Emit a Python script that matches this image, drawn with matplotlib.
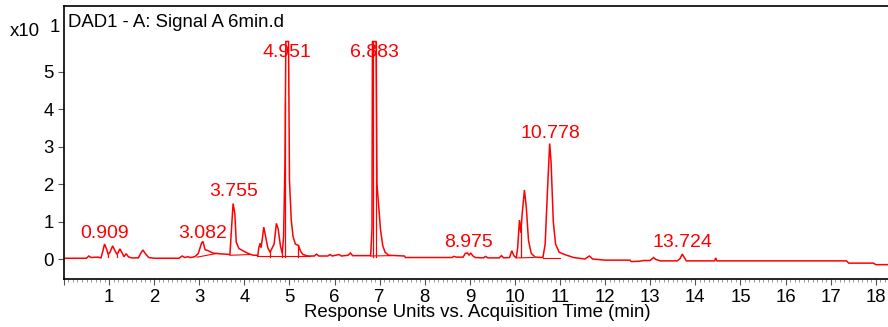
import numpy as np
import matplotlib
matplotlib.use("Agg")
import matplotlib.pyplot as plt
from matplotlib.ticker import MultipleLocator

plt.rcParams['font.family'] = ['Liberation Sans', 'DejaVu Sans']

# DAD1 signal A, response in units of x10^1, time in minutes
rt = [0.00, 0.50, 0.55, 0.60, 0.75, 0.82, 0.86, 0.90, 0.95, 0.98, 1.02, 1.08,
      1.14, 1.18, 1.24, 1.30, 1.33, 1.38, 1.43, 1.50, 1.65, 1.70, 1.75, 1.82,
      1.88, 2.00, 2.55, 2.62, 2.68, 2.75, 2.80, 2.90, 2.98, 3.05, 3.08, 3.13,
      3.20, 3.30, 3.45, 3.68, 3.70, 3.75, 3.79, 3.82, 3.88, 4.00, 4.10, 4.20,
      4.30, 4.32, 4.35, 4.37, 4.40, 4.43, 4.47, 4.52, 4.57, 4.62, 4.66, 4.71,
      4.75, 4.80, 4.84, 4.87, 4.90, 4.92, 4.98, 5.00, 5.04, 5.08, 5.13, 5.20,
      5.25, 5.30, 5.40, 5.55, 5.60, 5.65, 5.85, 5.90, 5.95, 6.10, 6.15, 6.30,
      6.35, 6.40, 6.80, 6.83, 6.84, 6.92, 6.94, 7.02, 7.07, 7.12, 7.20, 7.55,
      7.57, 8.60, 8.65, 8.70, 8.85, 8.90, 8.95, 8.98, 9.02, 9.07, 9.12, 9.30,
      9.35, 9.40, 9.65, 9.70, 9.75, 9.88, 9.93, 9.98, 10.03, 10.06, 10.10,
      10.13, 10.16, 10.21, 10.25, 10.30, 10.36, 10.45, 10.62, 10.67, 10.72,
      10.77, 10.80, 10.85, 10.90, 10.98, 11.10, 11.20, 11.30, 11.55, 11.65,
      11.72, 12.00, 12.55, 12.58, 12.75, 12.85, 13.00, 13.07, 13.12, 13.22,
      13.60, 13.66, 13.71, 13.76, 13.80, 14.43, 14.45, 14.48, 17.35, 17.40,
      17.95, 18.00, 18.40]
signal = [0.02, 0.02, 0.08, 0.04, 0.05, 0.03, 0.20, 0.40, 0.25, 0.12, 0.18, 0.35,
          0.20, 0.12, 0.27, 0.14, 0.06, 0.14, 0.06, 0.03, 0.03, 0.15, 0.24, 0.12,
          0.04, 0.02, 0.02, 0.08, 0.04, 0.06, 0.04, 0.06, 0.15, 0.42, 0.47, 0.25,
          0.22, 0.16, 0.14, 0.12, 0.50, 1.48, 1.20, 0.45, 0.28, 0.20, 0.14, 0.10,
          0.10, 0.30, 0.42, 0.30, 0.55, 0.85, 0.60, 0.30, 0.18, 0.30, 0.40, 0.95,
          0.80, 0.35, 0.15, 0.60, 2.50, 5.80, 5.80, 2.10, 1.04, 0.60, 0.40, 0.36,
          0.20, 0.12, 0.08, 0.08, 0.13, 0.08, 0.08, 0.12, 0.08, 0.12, 0.08, 0.10,
          0.16, 0.09, 0.09, 0.80, 5.80, 5.80, 2.00, 0.77, 0.35, 0.18, 0.10, 0.08,
          0.04, 0.04, 0.07, 0.05, 0.05, 0.15, 0.16, 0.10, 0.16, 0.08, 0.04, 0.03,
          0.07, 0.03, 0.03, 0.09, 0.03, 0.04, 0.22, 0.08, 0.03, 0.30, 1.04,
          0.70, 1.20, 1.84, 1.40, 0.50, 0.15, 0.05, 0.04, 0.40, 1.80,
          3.08, 2.60, 1.00, 0.40, 0.18, 0.12, 0.08, 0.04, 0.00, 0.08,
          0.00, -0.03, -0.03, -0.07, -0.06, -0.04, -0.04, 0.04, -0.01, -0.05,
          -0.05, 0.01, 0.13, 0.03, -0.05, -0.05, 0.03, -0.05, -0.05, -0.11,
          -0.11, -0.15, -0.15]

# labelled peaks: retention time, label height
peak_rt = ["0.909", "3.082", "3.755", "4.951", "6.883", "8.975", "10.778", "13.724"]
peak_label_y = [0.67, 0.69, 1.79, 5.50, 5.50, 0.43, 3.36, 0.43]

# integration baselines (t0, y0, t1, y1) and drop lines
base_segments = [(2.95, 0.05, 3.40, 0.15), (3.68, 0.10, 4.15, 0.12),
                 (4.28, 0.08, 5.45, 0.08), (6.80, 0.08, 7.25, 0.09),
                 (10.03, 0.03, 10.42, 0.04), (10.62, 0.04, 11.00, 0.04)]
drop_times = [0.98, 1.18, 1.33, 4.57, 4.84, 4.91, 5.18, 6.85, 6.91, 10.14]

red = '#ff0000'
fs = 13.4

fig = plt.figure(figsize=(8.88, 3.27), dpi=100)
ax = fig.add_axes([63.5 / 888, 48 / 327, (892 - 63.5) / 888, 273 / 327])

ax.plot(rt, signal, color=red, lw=1.1, solid_joinstyle='miter')
for t0, y0, t1, y1 in base_segments:
    ax.plot([t0, t1], [y0, y1], color=red, lw=0.8)
for t in drop_times:
    ax.plot([t, t], [0.06, np.interp(t, rt, signal)], color=red, lw=0.9)

for lab, ly in zip(peak_rt, peak_label_y):
    ax.text(float(lab), ly, lab, color=red, fontsize=14,
            ha='center', va='center')

ax.set_xlim(-0.01, 18.36)
ax.set_ylim(-0.533, 6.747)

ax.xaxis.set_minor_locator(MultipleLocator(0.1))
ax.set_xticks(range(0, 19))
ax.set_xticklabels([''] + [str(i) for i in range(1, 19)])
ax.set_yticks(range(0, 6))
ax.tick_params(axis='both', which='major', labelsize=fs, length=4.5,
               width=0.8, color='#555555', pad=2.5)
ax.tick_params(axis='x', which='minor', length=2.5, width=0.6, color='#888888')
ax.tick_params(axis='y', which='minor', left=False)

for s in ax.spines.values():
    s.set_linewidth(1.2)
ax.spines['right'].set_visible(False)

ax.set_xlabel('Response Units vs. Acquisition Time (min)', fontsize=fs,
              labelpad=-1)

ax.text(0.005, 0.94, 'DAD1 - A: Signal A 6min.d', transform=ax.transAxes,
        fontsize=fs, ha='left', va='center')
fig.text(10 / 888, 1 - 32 / 327, 'x10', fontsize=fs, ha='left', va='center')
fig.text(50 / 888, 1 - 27 / 327, '1', fontsize=fs, ha='left', va='center')

fig.savefig('out.png', dpi=100)
